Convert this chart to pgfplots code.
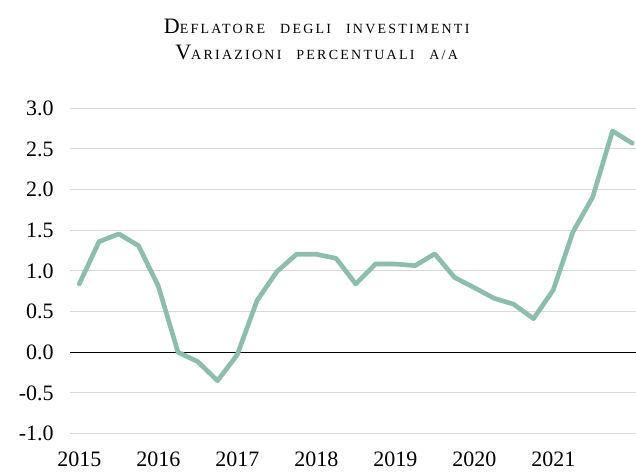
\documentclass[border=0pt]{standalone}
\usepackage{fontspec}
\setmainfont{Liberation Serif}
\newfontfamily\titlefont[LetterSpace=16,WordSpace=2.6]{Liberation Serif}
\usepackage{pgfplots}
\pgfplotsset{compat=1.18}
\usetikzlibrary{calc}
\definecolor{sage}{HTML}{8DBDAE}
\definecolor{gridgray}{HTML}{D9D9D9}
\newcommand{\TitBig}{\fontsize{16.5}{19}\selectfont}
\newcommand{\TitSm}{\fontsize{10.5}{12}\selectfont}
\begin{document}
\begin{tikzpicture}
\begin{axis}[name=ax, scale only axis, width=424.5pt, height=244pt,
 xmin=-0.47, xmax=28.19, ymin=-1, ymax=3,
 axis line style={draw=none}, major tick length=0pt,
 xtick={0,4,8,12,16,20,24}, xticklabels={2015,2016,2017,2018,2019,2020,2021},
 ytick={-1,-0.5,0,0.5,1,1.5,2,2.5,3},
 yticklabels={-1.0,-0.5,0.0,0.5,1.0,1.5,2.0,2.5,3.0},
 ymajorgrids, grid style={gridgray, line width=0.75pt},
 extra y ticks={0}, extra y tick labels={},
 extra y tick style={grid style={black, line width=0.8pt}},
 tick label style={font=\fontsize{16.5}{19}\selectfont},
 xticklabel style={yshift=-10.5pt},
 yticklabel style={xshift=-8.75pt},
]
\addplot[sage, line width=3.5pt, line join=round, line cap=round] coordinates {
(0,0.84) (1,1.36) (2,1.455) (3,1.31) (4,0.815) (5,0.0) (6,-0.115) (7,-0.35)
(8,-0.03) (9,0.635) (10,0.99) (11,1.205) (12,1.205) (13,1.155) (14,0.84)
(15,1.085) (16,1.085) (17,1.065) (18,1.21) (19,0.92) (20,0.795) (21,0.664)
(22,0.59) (23,0.413) (24,0.766) (25,1.48) (26,1.91) (27,2.72) (28,2.57)
};
\end{axis}
\node[anchor=base, font=\titlefont] at ($(ax.north west)+(185pt,56pt)$) {{\TitBig D}{\TitSm EFLATORE DEGLI INVESTIMENTI}};
\node[anchor=base, font=\titlefont] at ($(ax.north west)+(185pt,36.5pt)$) {{\TitBig V}{\TitSm ARIAZIONI PERCENTUALI A/A}};
\pgfresetboundingbox
\path[use as bounding box] ($(ax.south west)+(-52.5pt,-30.3pt)$) rectangle ($(ax.north east)+(0pt,81.2pt)$);
\end{tikzpicture}
\end{document}
